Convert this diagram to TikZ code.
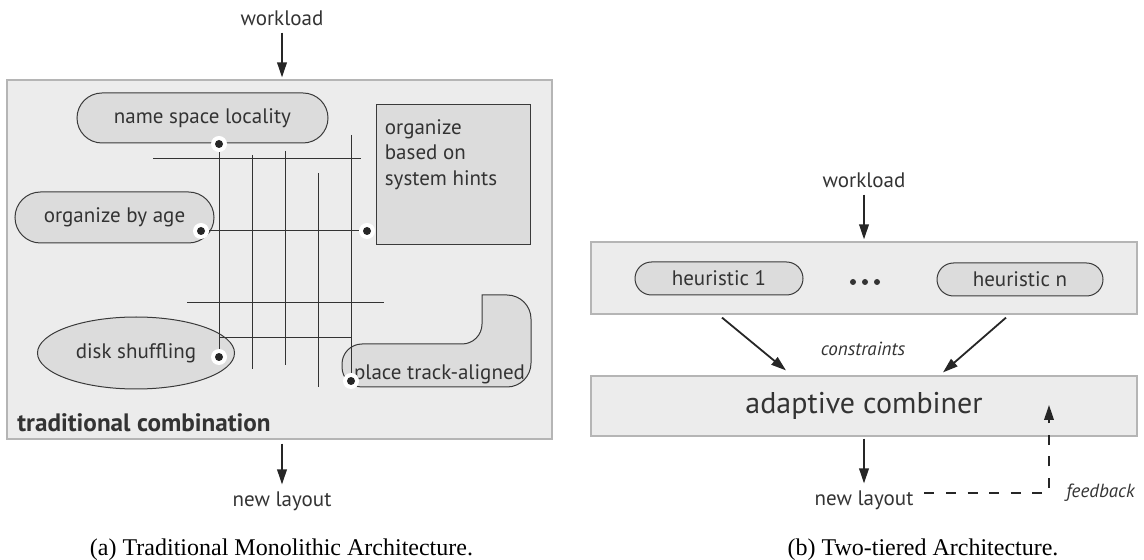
\documentclass[tikz,border=0pt]{standalone}
\usepackage{fontspec}
\setmainfont{Liberation Serif}
\setsansfont{PT Sans}
\usetikzlibrary{arrows.meta,shapes.geometric,shapes.misc,positioning}

\definecolor{panelfill}{HTML}{ECECEC}
\definecolor{panelline}{HTML}{B5B5B5}
\definecolor{shapefill}{HTML}{DCDCDC}
\definecolor{shapeline}{HTML}{3A3A3A}
\definecolor{ink}{HTML}{333333}

\begin{document}
\begin{tikzpicture}[
        x=0.5pt, y=-0.5pt,
        lbl/.style={font=\sffamily\fontsize{10.5}{12.6}\selectfont, text=ink},
        note/.style={font=\sffamily\itshape\fontsize{9.5}{11}\selectfont, text=ink},
        panel/.style={draw=panelline, fill=panelfill, line width=0.6pt, rectangle, inner sep=0pt},
        pill/.style={lbl, draw=shapeline, fill=shapefill, line width=0.5pt, rounded rectangle, inner sep=0pt},
        blob/.style={lbl, draw=shapeline, fill=shapefill, line width=0.5pt, inner sep=0pt},
        arr/.style={draw=black!85, line width=0.9pt, -{Triangle[length=7.5pt,width=4.8pt]}},
        fb/.style={arr, dash pattern=on 5pt off 5.8pt},
        grid/.style={draw=black!80, line width=0.5pt},
        port/.style={fill=white},
        caption/.style={font=\rmfamily\fontsize{12}{14}\selectfont},
    ]
    \useasboundingbox (0,0) rectangle (1144,560);

    % (a) monolithic
    \node[lbl] (wl1) at (282,18) {workload};
    \node[panel, minimum width=272.5pt, minimum height=179.5pt] (mono) at (279.5,259.5) {};
    \draw[arr] (wl1.south) -- ([yshift=1pt]wl1 |- mono.north);

    \node[pill, minimum width=125.5pt, minimum height=25pt] (nsl) at (202.5,118) {name space locality};
    \node[pill, minimum width=99.5pt, minimum height=25.5pt] (age) at (114.5,217.5) {organize by age};
    \node[blob, rectangle, minimum width=77pt, minimum height=70pt] (hints) at (453,175) {};
    \node[lbl, align=left, inner sep=0pt, anchor=north west, below right=7.5pt and 4.5pt of hints.north west] (hintstext) {organize\\based on\\system hints};
    \node[blob, ellipse, minimum width=98.5pt, minimum height=36pt] (disk) at (136,353) {disk shuffling};
    \draw[blob] (412,387) [rounded corners=10pt] -- (342,387) -- (342,344) -- (482,344)
        [sharp corners] -- (482,295) [rounded corners=12pt] -- (531,295) -- (531,387) -- cycle;
    \node[lbl, inner sep=0pt] (track) at (439.5,374) {place track-aligned};

    \coordinate (pNsl) at (219,144);
    \coordinate (pAge) at (201,231);
    \coordinate (pHints) at (367,231);
    \coordinate (pDisk) at (219,357);
    \coordinate (pTrack) at (351,381);

    \draw[grid] (pNsl) -- (pDisk);
    \draw[grid] (pAge) -- (pHints);
    \draw[grid] (pTrack |- 0,135) -- (pTrack);
    \draw[grid] (153,159) -- (361,159);
    \draw[grid] (187,303) -- (384,303);
    \draw[grid] (pNsl |- 0,338) -- (pTrack |- 0,338);
    \foreach \x/\a/\b in {252/155/369, 285/151/365, 318/173/387}
        \draw[grid] (\x,\a) -- (\x,\b);
    \foreach \p in {pNsl,pAge,pHints,pDisk,pTrack} {
        \fill[port] (\p) circle (4pt);
        \fill[black!85] (\p) circle (2pt);
    }

    \node[font=\sffamily\bfseries\fontsize{12.6}{15}\selectfont, text=ink, anchor=west, inner sep=0pt] (trad) at (17,423) {traditional combination};
    \node[lbl] (nl1) at (282,501) {new layout};
    \draw[arr] ([yshift=-2pt]nl1 |- mono.south) -- (nl1.north);
    \node[caption] (capa) at (281.5,550) {(a) Traditional Monolithic Architecture.};

    % (b) two-tiered
    \node[lbl] (wl2) at (864,180) {workload};
    \node[panel, minimum width=273pt, minimum height=36pt] (tier) at (864,278) {};
    \draw[arr] (wl2.south) -- ([yshift=1pt]wl2 |- tier.north);
    \node[pill, minimum width=84pt, minimum height=16.5pt] (heur1) at (719,278.5) {heuristic 1};
    \node[pill, minimum width=83pt, minimum height=16.5pt] (heurn) at (1020,279.5) {heuristic n};
    \foreach \x in {853,865,877}
        \fill[ink] (\x,282) circle (1.5pt);

    \node[panel, minimum width=273pt, minimum height=30pt, font=\sffamily\fontsize{15}{18}\selectfont, text=ink] (comb) at (864,406) {adaptive combiner};
    \draw[arr] ([xshift=-71pt,yshift=-1.5pt]tier.south) -- ([xshift=-39pt,yshift=2.5pt]comb.north);
    \draw[arr] ([xshift=71pt,yshift=-1.5pt]tier.south) -- ([xshift=39.5pt,yshift=1.5pt]comb.north);
    \node[note] (cons) at (863,349) {constraints};

    \node[lbl] (nl2) at (864,500) {new layout};
    \draw[arr] ([yshift=-1pt]nl2 |- comb.south) -- (nl2.north);
    \coordinate (fbtip) at (1049,405);
    \draw[fb] ([xshift=2pt,yshift=3.5pt]nl2.east) -| (fbtip);
    \node[note, anchor=west, inner sep=0pt] (feed) at (1066,493) {feedback};
    \node[caption] (capb) at (923,550) {(b) Two-tiered Architecture.};
\end{tikzpicture}
\end{document}
